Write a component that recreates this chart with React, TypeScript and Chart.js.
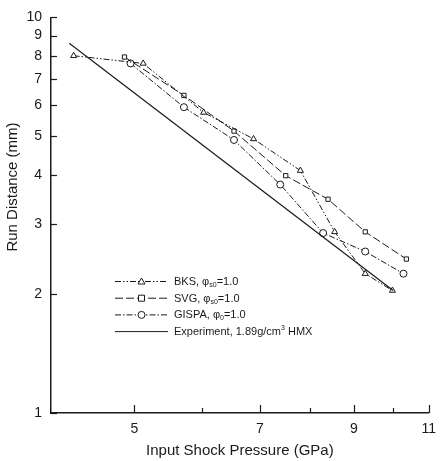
import React, { useEffect, useRef } from "react";
import { Chart, registerables } from "chart.js";

Chart.register(...registerables);

const X_MIN = 4;
const X_MAX = 11;
const Y_MIN = 1;
const Y_MAX = 10;
const X_LABEL_TICKS = [5, 7, 9, 11];
const X_MINOR_TICKS = [6, 8, 10];
const Y_LABEL_TICKS = [1, 2, 3, 4, 5, 6, 7, 8, 9, 10];

const BKS_X = [4.25, 5.12, 6.02, 6.88, 7.8, 8.55, 9.28, 9.98];
const BKS_Y = [8.0, 7.65, 5.75, 4.93, 4.1, 2.87, 2.25, 2.04];
const SVG_X = [4.87, 5.71, 6.53, 7.5, 8.4, 9.28, 10.36];
const SVG_Y = [7.94, 6.35, 5.16, 3.98, 3.47, 2.87, 2.45];
const GISPA_X = [4.95, 5.71, 6.53, 7.39, 8.29, 9.28, 10.28];
const GISPA_Y = [7.65, 5.93, 4.9, 3.78, 2.85, 2.56, 2.25];
const EXP_X = [4.2, 10.0];
const EXP_Y = [8.6, 2.04];

const X_TITLE = "Input Shock Pressure (GPa)";
const Y_TITLE = "Run Distance (mm)";

// legend text pieces: [text, mode] where mode n=normal, s=subscript, p=superscript
const LEGEND_BKS: [string, string][] = [["BKS, φ", "n"], ["s0", "s"], ["=1.0", "n"]];
const LEGEND_SVG: [string, string][] = [["SVG, φ", "n"], ["s0", "s"], ["=1.0", "n"]];
const LEGEND_GISPA: [string, string][] = [["GISPA, φ", "n"], ["0", "s"], ["=1.0", "n"]];
const LEGEND_EXP: [string, string][] = [["Experiment, 1.89g/cm", "n"], ["3", "p"], [" HMX", "n"]];

const FONT = "'Liberation Sans', Arial, Helvetica, sans-serif";
const INK = "#1a1a1a";

const DASH_BKS = [6, 2, 1.5, 2, 1.5, 2];
const DASH_SVG = [8, 3];
const DASH_GISPA = [6, 2, 1.5, 2];

const pts = (xs: number[], ys: number[]) => xs.map((x, i) => ({ x, y: ys[i] }));

function drawMarker(ctx: CanvasRenderingContext2D, kind: string, x: number, y: number) {
  ctx.save();
  ctx.setLineDash([]);
  ctx.fillStyle = "#fff";
  ctx.strokeStyle = INK;
  ctx.lineWidth = 1;
  ctx.beginPath();
  if (kind === "triangle") {
    ctx.moveTo(x, y - 3.5);
    ctx.lineTo(x + 3.5, y + 2.5);
    ctx.lineTo(x - 3.5, y + 2.5);
    ctx.closePath();
  } else if (kind === "rect") {
    ctx.rect(x - 3, y - 3, 6, 6);
  } else if (kind === "circle") {
    ctx.arc(x, y, 3.5, 0, Math.PI * 2);
  }
  ctx.fill();
  ctx.stroke();
  ctx.restore();
}

const customPlugin = {
  id: "custom",
  afterDraw(chart: any) {
    const ctx: CanvasRenderingContext2D = chart.ctx;
    const xs = chart.scales.x;
    const ys = chart.scales.y;
    const area = chart.chartArea;
    ctx.save();
    ctx.strokeStyle = INK;
    ctx.lineWidth = 1.2;
    ctx.setLineDash([]);
    // inward ticks
    Y_LABEL_TICKS.forEach((v) => {
      const py = Math.round(ys.getPixelForValue(v)) + 0.5;
      ctx.beginPath();
      ctx.moveTo(area.left, py);
      ctx.lineTo(area.left + 6, py);
      ctx.stroke();
    });
    X_LABEL_TICKS.forEach((v) => {
      const px = Math.round(xs.getPixelForValue(v)) + 0.5;
      ctx.beginPath();
      ctx.moveTo(px, area.bottom);
      ctx.lineTo(px, area.bottom - 8);
      ctx.stroke();
    });
    X_MINOR_TICKS.forEach((v) => {
      const px = Math.round(xs.getPixelForValue(v)) + 0.5;
      ctx.beginPath();
      ctx.moveTo(px, area.bottom);
      ctx.lineTo(px, area.bottom - 5);
      ctx.stroke();
    });

    // y-axis title (placed as in the reference, above the axis centre)
    ctx.save();
    ctx.translate(13, 187);
    ctx.rotate(-Math.PI / 2);
    ctx.fillStyle = INK;
    ctx.font = `15px ${FONT}`;
    ctx.textAlign = "center";
    ctx.textBaseline = "middle";
    ctx.fillText(Y_TITLE, 0, 0);
    ctx.restore();

    // legend
    const entries = [
      { parts: LEGEND_BKS, dash: DASH_BKS, marker: "triangle" },
      { parts: LEGEND_SVG, dash: DASH_SVG, marker: "rect" },
      { parts: LEGEND_GISPA, dash: DASH_GISPA, marker: "circle" },
      { parts: LEGEND_EXP, dash: [], marker: "" },
    ];
    const x0 = area.left + 64;
    const x1 = area.left + 117;
    const tx = area.left + 123;
    let y = 281;
    entries.forEach((e) => {
      ctx.save();
      ctx.strokeStyle = INK;
      ctx.lineWidth = 1;
      ctx.setLineDash(e.dash);
      ctx.beginPath();
      ctx.moveTo(x0, y + 0.5);
      ctx.lineTo(x1, y + 0.5);
      ctx.stroke();
      ctx.restore();
      if (e.marker) drawMarker(ctx, e.marker, (x0 + x1) / 2, y + 0.5);
      let cx = tx;
      ctx.fillStyle = INK;
      ctx.textBaseline = "middle";
      ctx.textAlign = "left";
      e.parts.forEach(([t, mode]) => {
        if (mode === "n") {
          ctx.font = `11px ${FONT}`;
          ctx.fillText(t, cx, y + 1);
        } else if (mode === "s") {
          ctx.font = `7px ${FONT}`;
          ctx.fillText(t, cx, y + 4);
        } else {
          ctx.font = `7px ${FONT}`;
          ctx.fillText(t, cx, y - 3);
        }
        cx += ctx.measureText(t).width;
      });
      y += 16.7;
    });
    ctx.restore();
  },
};

export default function App() {
  const ref = useRef<HTMLCanvasElement | null>(null);
  useEffect(() => {
    if (!ref.current) return;
    const lineDs = (label: string, xs: number[], ys: number[], dash: number[], style: any, radius: number) => ({
      label,
      data: pts(xs, ys),
      borderColor: INK,
      backgroundColor: "#ffffff",
      borderWidth: 1,
      borderDash: dash,
      pointStyle: style,
      pointRadius: radius,
      pointBorderWidth: 1,
      pointBorderColor: INK,
      pointBackgroundColor: "#ffffff",
      fill: false,
      tension: 0,
    });
    const chart = new Chart(ref.current, {
      type: "line",
      data: {
        datasets: [
          { ...lineDs("Experiment, 1.89g/cm³ HMX", EXP_X, EXP_Y, [], false, 0), borderWidth: 1.2 },
          lineDs("BKS", BKS_X, BKS_Y, DASH_BKS, "triangle", 3.5),
          lineDs("SVG", SVG_X, SVG_Y, DASH_SVG, "rect", 3),
          lineDs("GISPA", GISPA_X, GISPA_Y, DASH_GISPA, "circle", 3.5),
        ] as any,
      },
      options: {
        animation: false,
        responsive: false,
        layout: { padding: { top: 13, right: 7, left: 0, bottom: 0 } },
        plugins: { legend: { display: false }, tooltip: { enabled: false } },
        scales: {
          x: {
            type: "logarithmic",
            min: X_MIN,
            max: X_MAX,
            position: "bottom",
            afterFit: (s: any) => {
              s.height = 48;
            },
            afterBuildTicks: (s: any) => {
              s.ticks = X_LABEL_TICKS.map((v) => ({ value: v }));
            },
            grid: { display: true, drawOnChartArea: false, drawTicks: false },
            border: { display: true, color: INK, width: 1.5 },
            ticks: {
              autoSkip: false,
              maxRotation: 0,
              padding: 8,
              color: INK,
              font: { family: FONT, size: 14 },
              callback: (v: any) => String(v),
            },
            title: {
              display: true,
              text: X_TITLE,
              color: INK,
              font: { family: FONT, size: 15 },
              padding: { top: 1, bottom: 1 },
            },
          },
          y: {
            type: "logarithmic",
            min: Y_MIN,
            max: Y_MAX,
            afterFit: (s: any) => {
              s.width = 51;
            },
            afterBuildTicks: (s: any) => {
              s.ticks = Y_LABEL_TICKS.map((v) => ({ value: v }));
            },
            grid: { display: true, drawOnChartArea: false, drawTicks: false },
            border: { display: true, color: INK, width: 1.5 },
            ticks: {
              autoSkip: false,
              padding: 9,
              color: INK,
              font: { family: FONT, size: 14 },
              callback: (v: any) => String(v),
            },
            title: { display: false },
          },
        },
      },
      plugins: [customPlugin],
    } as any);
    return () => chart.destroy();
  }, []);
  return (
    <div style={{ position: "fixed", left: 0, top: 0, width: 444, height: 461, background: "#fff" }}>
      <canvas ref={ref} width={444} height={461} style={{ display: "block" }} />
    </div>
  );
}
